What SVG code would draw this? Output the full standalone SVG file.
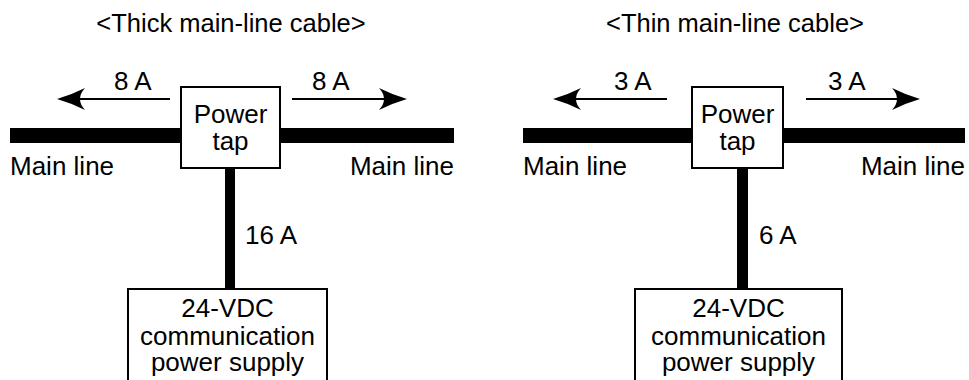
<svg xmlns="http://www.w3.org/2000/svg" width="969" height="380" viewBox="0 0 969 380">
<style>
text{font-family:"Liberation Sans",Arial,sans-serif;font-size:26px;fill:#000}
.t{font-size:25.5px}
.c{text-anchor:middle}
.e{text-anchor:end}
.box{fill:#fff;stroke:#000;stroke-width:2}
.bar{fill:#000}
.arrow{stroke:#000;stroke-width:2;fill:none;marker-end:url(#ah)}
</style>
<defs>
<marker id="ah" viewBox="0 0 28 22" refX="18" refY="11" markerWidth="28" markerHeight="22" markerUnits="userSpaceOnUse" orient="auto">
<path d="M0,0 Q14,7 28,11 Q14,15 0,22 Q10,11 0,0 Z" fill="#000"/>
</marker>
</defs>
<rect width="969" height="380" fill="#fff"/>
<g id="titles">
<text class="c t" x="231" y="32">&lt;Thick main-line cable&gt;</text>
<text class="c t" x="735" y="32">&lt;Thin main-line cable&gt;</text>
</g>
<g id="connectors">
<rect class="bar" x="10" y="128" width="444" height="15"/>
<rect class="bar" x="225" y="167" width="10" height="123"/>
<line class="arrow" x1="170" y1="99" x2="67" y2="99"/>
<line class="arrow" x1="292" y1="99" x2="397" y2="99"/>
<rect class="bar" x="523" y="128" width="442" height="15"/>
<rect class="bar" x="737" y="167" width="11" height="123"/>
<line class="arrow" x1="667" y1="99" x2="563" y2="99"/>
<line class="arrow" x1="806" y1="99" x2="910" y2="99"/>
</g>
<g id="labels">
<text x="114" y="90">8 A</text>
<text x="312" y="90">8 A</text>
<text x="10" y="175">Main line</text>
<text class="e" x="454" y="175">Main line</text>
<text x="245" y="244">16 A</text>
<text x="614" y="90">3 A</text>
<text x="828" y="90">3 A</text>
<text x="523" y="175">Main line</text>
<text class="e" x="965" y="175">Main line</text>
<text x="759" y="244">6 A</text>
</g>
<g id="tap-thick">
<rect class="box" x="181" y="87" width="99" height="81"/>
<text class="c" x="230.5" y="123">Power</text>
<text class="c" x="230.5" y="150">tap</text>
</g>
<g id="supply-thick">
<rect class="box" x="128" y="289" width="199" height="100"/>
<text class="c" x="227.5" y="317">24-VDC</text>
<text class="c" x="227.5" y="345">communication</text>
<text class="c" x="227.5" y="371">power supply</text>
</g>
<g id="tap-thin">
<rect class="box" x="692" y="87" width="91" height="81"/>
<text class="c" x="737.5" y="123">Power</text>
<text class="c" x="737.5" y="150">tap</text>
</g>
<g id="supply-thin">
<rect class="box" x="635" y="289" width="207" height="100"/>
<text class="c" x="738.5" y="317">24-VDC</text>
<text class="c" x="738.5" y="345">communication</text>
<text class="c" x="738.5" y="371">power supply</text>
</g>
</svg>
